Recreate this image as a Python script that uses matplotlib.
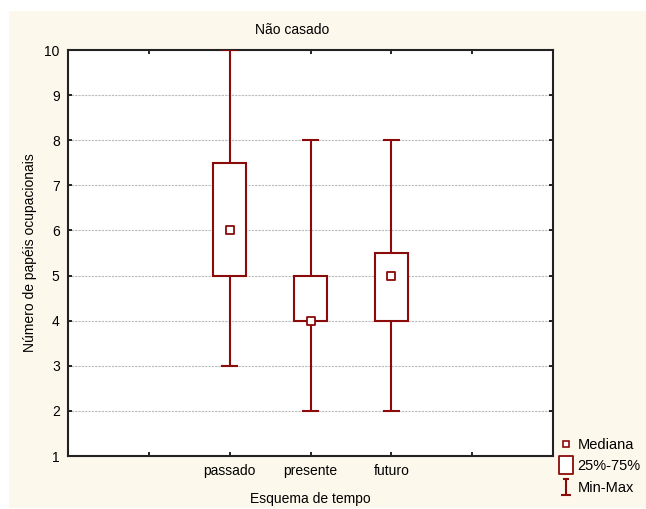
import numpy as np
import matplotlib
matplotlib.use("Agg")
import matplotlib.pyplot as plt
from matplotlib.patches import Rectangle
from matplotlib.lines import Line2D
from matplotlib.path import Path

### Data
categories = ["passado", "presente", "futuro"]
mins = [3, 2, 2]
q1 = [5, 4, 4]
medians = [6, 4, 5]
q3 = [7.5, 5, 5.5]
maxs = [10, 8, 8]

# Style
red = "#8B0A0A"
cream = "#FDF8EC"
plt.rcParams["font.family"] = ["Liberation Sans", "DejaVu Sans"]
plt.rcParams["font.size"] = 10

fig = plt.figure(figsize=(6.46, 5.09), dpi=100)
fig.patch.set_facecolor("white")
fig.patches.append(Rectangle((9 / 646, 1 / 509), 637 / 646, 497 / 509,
                             transform=fig.transFigure, facecolor=cream,
                             edgecolor="none", zorder=-10))

ax = fig.add_axes([68 / 646, 1 - 456 / 509, 485 / 646, 406 / 509])
ax.set_facecolor("white")

x = np.arange(len(categories))
box_w = 0.41
cap_w = 0.21

ax.vlines(x, mins, q1, color=red, lw=1.5, zorder=3)
ax.vlines(x, q3, maxs, color=red, lw=1.5, zorder=3)
ax.hlines(mins, x - cap_w / 2, x + cap_w / 2, color=red, lw=1.5, zorder=3)
ax.hlines(maxs, x - cap_w / 2, x + cap_w / 2, color=red, lw=1.5, zorder=3)
ax.bar(x, np.array(q3) - np.array(q1), bottom=q1, width=box_w,
       facecolor="white", edgecolor=red, linewidth=1.5, zorder=3)
ax.scatter(x, medians, marker="s", s=30, facecolor="white",
           edgecolor=red, linewidth=1.3, zorder=4, clip_on=False)

ax.set_xlim(-2, 4)
ax.set_ylim(1, 10)
ax.set_yticks(np.arange(1, 11))
ax.set_xticks([-1, 0, 1, 2, 3])
ax.set_xticklabels([""] + categories + [""])
ax.yaxis.grid(True, linestyle=(0, (2, 1)), color="#BBBBBB", lw=0.8)
ax.set_axisbelow(True)
ax.tick_params(direction="in", length=3, width=1.2, top=True, right=True,
               colors="black", labelsize=10)
ax.tick_params(axis="y", pad=6)
ax.tick_params(axis="x", pad=6)
for s in ax.spines.values():
    s.set_linewidth(1.5)
    s.set_color("#222222")

ax.set_xlabel("Esquema de tempo", labelpad=10)
ax.set_ylabel("Número de papéis ocupacionais", labelpad=5)
fig.text(292 / 646, 1 - 30 / 509, "Não casado", ha="center", va="center")

# legend
ibeam = Path([(-0.35, 1), (0.35, 1), (0, 1), (0, -1), (-0.6, -1), (0.6, -1)],
             [Path.MOVETO, Path.LINETO, Path.MOVETO, Path.LINETO,
              Path.MOVETO, Path.LINETO])
tallbox = Path([(-0.8, -1), (0.8, -1), (0.8, 1), (-0.8, 1), (-0.8, -1)],
               [Path.MOVETO, Path.LINETO, Path.LINETO, Path.LINETO,
                Path.CLOSEPOLY])
handles = [
    Line2D([], [], marker="s", ls="none", markersize=5, markerfacecolor="white",
           markeredgecolor=red, markeredgewidth=1.2),
    Line2D([], [], marker=tallbox, ls="none", markersize=13,
           markerfacecolor="white", markeredgecolor=red, markeredgewidth=1.3),
    Line2D([], [], marker=ibeam, ls="none", markersize=12,
           markeredgecolor=red, markeredgewidth=1.5),
]
fig.legend(handles, ["Mediana", "25%-75%", "Min-Max"], loc="upper left",
           bbox_to_anchor=(549 / 646, 1 - 428 / 509), frameon=False,
           handlelength=1.0, handletextpad=0.25, labelspacing=0.5,
           borderpad=0.2, fontsize=10.5)

fig.savefig("out.png", dpi=100)
